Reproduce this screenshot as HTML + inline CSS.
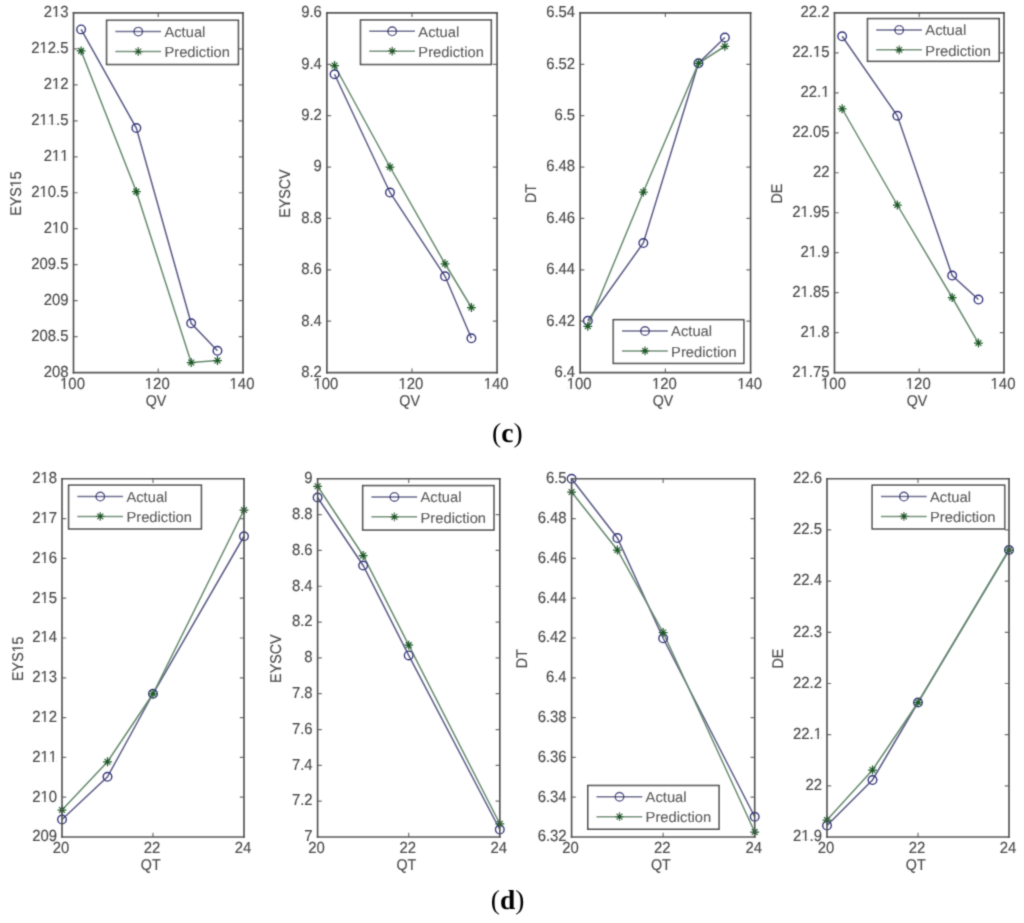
<!DOCTYPE html>
<html><head><meta charset="utf-8"><style>
html,body{margin:0;padding:0;background:#fff;}
body{width:1024px;height:923px;overflow:hidden;}
svg{display:block;}
#main{filter:url(#bl);}
svg text{font-family:"Liberation Sans",sans-serif;font-kerning:none;font-feature-settings:"kern" 0;text-rendering:geometricPrecision;fill:#4a4a4a;stroke:#4a4a4a;stroke-width:0.15px;}
</style></head><body>
<svg width="1024" height="923" viewBox="0 0 1024 923">
<defs><filter id="bl" x="0" y="0" width="1024" height="923" filterUnits="userSpaceOnUse"><feConvolveMatrix order="3" kernelMatrix="0.02768 0.11101 0.02768 0.11101 0.44521 0.11101 0.02768 0.11101 0.02768" edgeMode="none"/></filter></defs>
<rect width="1024" height="923" fill="#fff"/>
<g id="main"><g><path d="M158.25,372.60v-4.2M158.25,12.90v4.2M73.50,336.63h4.2M243.00,336.63h-4.2M73.50,300.66h4.2M243.00,300.66h-4.2M73.50,264.69h4.2M243.00,264.69h-4.2M73.50,228.72h4.2M243.00,228.72h-4.2M73.50,192.75h4.2M243.00,192.75h-4.2M73.50,156.78h4.2M243.00,156.78h-4.2M73.50,120.81h4.2M243.00,120.81h-4.2M73.50,84.84h4.2M243.00,84.84h-4.2M73.50,48.87h4.2M243.00,48.87h-4.2" stroke="#707070" stroke-width="1.2" fill="none"/><polyline points="81.13,29.40 136.34,128.05 191.18,323.25 217.45,350.75" stroke="#5a5a86" stroke-width="1.5" fill="none"/><polyline points="81.13,50.90 136.34,191.60 191.18,362.50 217.45,360.50" stroke="#66896d" stroke-width="1.5" fill="none"/><circle cx="81.13" cy="29.40" r="4.3" stroke="#33337a" stroke-width="1.35" fill="none"/><circle cx="136.34" cy="128.05" r="4.3" stroke="#33337a" stroke-width="1.35" fill="none"/><circle cx="191.18" cy="323.25" r="4.3" stroke="#33337a" stroke-width="1.35" fill="none"/><circle cx="217.45" cy="350.75" r="4.3" stroke="#33337a" stroke-width="1.35" fill="none"/><path d="M76.73,50.90H85.53M81.13,46.50V55.30M78.22,48.00L84.03,53.80M78.22,53.80L84.03,48.00M131.94,191.60H140.74M136.34,187.20V196.00M133.44,188.70L139.25,194.50M133.44,194.50L139.25,188.70M186.78,362.50H195.58M191.18,358.10V366.90M188.27,359.60L194.08,365.40M188.27,365.40L194.08,359.60M213.05,360.50H221.85M217.45,356.10V364.90M214.54,357.60L220.35,363.40M214.54,363.40L220.35,357.60" stroke="#1e5a28" stroke-width="1.25" fill="none"/><path d="M73.50,12.90H243.00M73.50,372.60H243.00" stroke="#585858" stroke-width="1.6" fill="none" stroke-linecap="square"/><path d="M73.50,12.90V372.60M243.00,12.90V372.60" stroke="#505050" stroke-width="1.6" fill="none" stroke-linecap="square"/><text transform="translate(68.50,376.90) scale(0.93,1)" style="font-size:16.0px" text-anchor="end">208</text><text transform="translate(68.50,340.93) scale(0.93,1)" style="font-size:16.0px" text-anchor="end">208.5</text><text transform="translate(68.50,304.96) scale(0.93,1)" style="font-size:16.0px" text-anchor="end">209</text><text transform="translate(68.50,268.99) scale(0.93,1)" style="font-size:16.0px" text-anchor="end">209.5</text><text transform="translate(68.50,233.02) scale(0.93,1)" style="font-size:16.0px" text-anchor="end">210</text><text transform="translate(68.50,197.05) scale(0.93,1)" style="font-size:16.0px" text-anchor="end">210.5</text><text transform="translate(68.50,161.08) scale(0.93,1)" style="font-size:16.0px" text-anchor="end">211</text><text transform="translate(68.50,125.11) scale(0.93,1)" style="font-size:16.0px" text-anchor="end">211.5</text><text transform="translate(68.50,89.14) scale(0.93,1)" style="font-size:16.0px" text-anchor="end">212</text><text transform="translate(68.50,53.17) scale(0.93,1)" style="font-size:16.0px" text-anchor="end">212.5</text><text transform="translate(68.50,17.20) scale(0.93,1)" style="font-size:16.0px" text-anchor="end">213</text><text transform="translate(72.50,388.90) scale(0.93,1)" style="font-size:16.0px" text-anchor="middle">100</text><text transform="translate(157.25,388.90) scale(0.93,1)" style="font-size:16.0px" text-anchor="middle">120</text><text transform="translate(242.00,388.90) scale(0.93,1)" style="font-size:16.0px" text-anchor="middle">140</text><text transform="translate(155.95,405.60) scale(0.92,1)" style="font-size:15.5px" text-anchor="middle">QV</text><text transform="translate(21.00,193.55) rotate(-90) scale(0.92,1)" style="font-size:15.5px" text-anchor="middle">EYS15</text><rect x="106.60" y="20.30" width="131.80" height="44.20" stroke="#505050" stroke-width="1.6" fill="#fff"/><path d="M115.30,31.60H161.10" stroke="#5a5a86" stroke-width="1.5"/><circle cx="138.30" cy="31.60" r="4.3" stroke="#33337a" stroke-width="1.35" fill="none"/><path d="M115.30,51.50H161.10" stroke="#66896d" stroke-width="1.5"/><path d="M133.90,51.50H142.70M138.30,47.10V55.90M135.40,48.60L141.20,54.40M135.40,54.40L141.20,48.60" stroke="#1e5a28" stroke-width="1.25" fill="none"/><text transform="translate(164.40,36.90) scale(1.01,1)" style="font-size:14.6px">Actual</text><text transform="translate(164.40,57.20) scale(1.01,1)" style="font-size:14.6px">Prediction</text></g><g><path d="M411.98,372.60v-4.2M411.98,12.90v4.2M326.90,321.21h4.2M497.06,321.21h-4.2M326.90,269.83h4.2M497.06,269.83h-4.2M326.90,218.44h4.2M497.06,218.44h-4.2M326.90,167.06h4.2M497.06,167.06h-4.2M326.90,115.67h4.2M497.06,115.67h-4.2M326.90,64.29h4.2M497.06,64.29h-4.2" stroke="#707070" stroke-width="1.2" fill="none"/><polyline points="334.56,74.25 389.99,192.50 445.03,276.25 471.41,338.25" stroke="#5a5a86" stroke-width="1.5" fill="none"/><polyline points="334.56,65.50 389.99,167.00 445.03,263.75 471.41,307.50" stroke="#66896d" stroke-width="1.5" fill="none"/><circle cx="334.56" cy="74.25" r="4.3" stroke="#33337a" stroke-width="1.35" fill="none"/><circle cx="389.99" cy="192.50" r="4.3" stroke="#33337a" stroke-width="1.35" fill="none"/><circle cx="445.03" cy="276.25" r="4.3" stroke="#33337a" stroke-width="1.35" fill="none"/><circle cx="471.41" cy="338.25" r="4.3" stroke="#33337a" stroke-width="1.35" fill="none"/><path d="M330.16,65.50H338.96M334.56,61.10V69.90M331.65,62.60L337.46,68.40M331.65,68.40L337.46,62.60M385.59,167.00H394.39M389.99,162.60V171.40M387.08,164.10L392.89,169.90M387.08,169.90L392.89,164.10M440.63,263.75H449.43M445.03,259.35V268.15M442.13,260.85L447.94,266.65M442.13,266.65L447.94,260.85M467.01,307.50H475.81M471.41,303.10V311.90M468.50,304.60L474.31,310.40M468.50,310.40L474.31,304.60" stroke="#1e5a28" stroke-width="1.25" fill="none"/><path d="M326.90,12.90H497.06M326.90,372.60H497.06" stroke="#585858" stroke-width="1.6" fill="none" stroke-linecap="square"/><path d="M326.90,12.90V372.60M497.06,12.90V372.60" stroke="#505050" stroke-width="1.6" fill="none" stroke-linecap="square"/><text transform="translate(321.90,376.90) scale(0.93,1)" style="font-size:16.0px" text-anchor="end">8.2</text><text transform="translate(321.90,325.51) scale(0.93,1)" style="font-size:16.0px" text-anchor="end">8.4</text><text transform="translate(321.90,274.13) scale(0.93,1)" style="font-size:16.0px" text-anchor="end">8.6</text><text transform="translate(321.90,222.74) scale(0.93,1)" style="font-size:16.0px" text-anchor="end">8.8</text><text transform="translate(321.90,171.36) scale(0.93,1)" style="font-size:16.0px" text-anchor="end">9</text><text transform="translate(321.90,119.97) scale(0.93,1)" style="font-size:16.0px" text-anchor="end">9.2</text><text transform="translate(321.90,68.59) scale(0.93,1)" style="font-size:16.0px" text-anchor="end">9.4</text><text transform="translate(321.90,17.20) scale(0.93,1)" style="font-size:16.0px" text-anchor="end">9.6</text><text transform="translate(325.90,388.90) scale(0.93,1)" style="font-size:16.0px" text-anchor="middle">100</text><text transform="translate(410.98,388.90) scale(0.93,1)" style="font-size:16.0px" text-anchor="middle">120</text><text transform="translate(496.06,388.90) scale(0.93,1)" style="font-size:16.0px" text-anchor="middle">140</text><text transform="translate(409.68,405.60) scale(0.92,1)" style="font-size:15.5px" text-anchor="middle">QV</text><text transform="translate(290.00,193.55) rotate(-90) scale(0.92,1)" style="font-size:15.5px" text-anchor="middle">EYSCV</text><rect x="360.50" y="20.00" width="130.80" height="44.50" stroke="#505050" stroke-width="1.6" fill="#fff"/><path d="M369.20,31.30H415.00" stroke="#5a5a86" stroke-width="1.5"/><circle cx="392.20" cy="31.30" r="4.3" stroke="#33337a" stroke-width="1.35" fill="none"/><path d="M369.20,51.20H415.00" stroke="#66896d" stroke-width="1.5"/><path d="M387.80,51.20H396.60M392.20,46.80V55.60M389.30,48.30L395.10,54.10M389.30,54.10L395.10,48.30" stroke="#1e5a28" stroke-width="1.25" fill="none"/><text transform="translate(418.30,36.60) scale(1.01,1)" style="font-size:14.6px">Actual</text><text transform="translate(418.30,56.90) scale(1.01,1)" style="font-size:14.6px">Prediction</text></g><g><path d="M665.38,372.60v-4.2M665.38,12.90v4.2M580.15,321.21h4.2M750.60,321.21h-4.2M580.15,269.83h4.2M750.60,269.83h-4.2M580.15,218.44h4.2M750.60,218.44h-4.2M580.15,167.06h4.2M750.60,167.06h-4.2M580.15,115.67h4.2M750.60,115.67h-4.2M580.15,64.29h4.2M750.60,64.29h-4.2" stroke="#707070" stroke-width="1.2" fill="none"/><polyline points="587.82,320.75 643.34,243.00 698.48,63.25 724.90,37.50" stroke="#5a5a86" stroke-width="1.5" fill="none"/><polyline points="587.82,326.25 643.34,192.00 698.48,63.25 724.90,46.25" stroke="#66896d" stroke-width="1.5" fill="none"/><circle cx="587.82" cy="320.75" r="4.3" stroke="#33337a" stroke-width="1.35" fill="none"/><circle cx="643.34" cy="243.00" r="4.3" stroke="#33337a" stroke-width="1.35" fill="none"/><circle cx="698.48" cy="63.25" r="4.3" stroke="#33337a" stroke-width="1.35" fill="none"/><circle cx="724.90" cy="37.50" r="4.3" stroke="#33337a" stroke-width="1.35" fill="none"/><path d="M583.42,326.25H592.22M587.82,321.85V330.65M584.92,323.35L590.72,329.15M584.92,329.15L590.72,323.35M638.94,192.00H647.74M643.34,187.60V196.40M640.44,189.10L646.25,194.90M640.44,194.90L646.25,189.10M694.08,63.25H702.88M698.48,58.85V67.65M695.58,60.35L701.39,66.15M695.58,66.15L701.39,60.35M720.50,46.25H729.30M724.90,41.85V50.65M722.00,43.35L727.81,49.15M722.00,49.15L727.81,43.35" stroke="#1e5a28" stroke-width="1.25" fill="none"/><path d="M580.15,12.90H750.60M580.15,372.60H750.60" stroke="#585858" stroke-width="1.6" fill="none" stroke-linecap="square"/><path d="M580.15,12.90V372.60M750.60,12.90V372.60" stroke="#505050" stroke-width="1.6" fill="none" stroke-linecap="square"/><text transform="translate(575.15,376.90) scale(0.93,1)" style="font-size:16.0px" text-anchor="end">6.4</text><text transform="translate(575.15,325.51) scale(0.93,1)" style="font-size:16.0px" text-anchor="end">6.42</text><text transform="translate(575.15,274.13) scale(0.93,1)" style="font-size:16.0px" text-anchor="end">6.44</text><text transform="translate(575.15,222.74) scale(0.93,1)" style="font-size:16.0px" text-anchor="end">6.46</text><text transform="translate(575.15,171.36) scale(0.93,1)" style="font-size:16.0px" text-anchor="end">6.48</text><text transform="translate(575.15,119.97) scale(0.93,1)" style="font-size:16.0px" text-anchor="end">6.5</text><text transform="translate(575.15,68.59) scale(0.93,1)" style="font-size:16.0px" text-anchor="end">6.52</text><text transform="translate(575.15,17.20) scale(0.93,1)" style="font-size:16.0px" text-anchor="end">6.54</text><text transform="translate(579.15,388.90) scale(0.93,1)" style="font-size:16.0px" text-anchor="middle">100</text><text transform="translate(664.38,388.90) scale(0.93,1)" style="font-size:16.0px" text-anchor="middle">120</text><text transform="translate(749.60,388.90) scale(0.93,1)" style="font-size:16.0px" text-anchor="middle">140</text><text transform="translate(663.08,405.60) scale(0.92,1)" style="font-size:15.5px" text-anchor="middle">QV</text><text transform="translate(535.60,193.55) rotate(-90) scale(0.92,1)" style="font-size:15.5px" text-anchor="middle">DT</text><rect x="613.30" y="319.70" width="130.50" height="43.70" stroke="#505050" stroke-width="1.6" fill="#fff"/><path d="M622.00,331.00H667.80" stroke="#5a5a86" stroke-width="1.5"/><circle cx="645.00" cy="331.00" r="4.3" stroke="#33337a" stroke-width="1.35" fill="none"/><path d="M622.00,350.90H667.80" stroke="#66896d" stroke-width="1.5"/><path d="M640.60,350.90H649.40M645.00,346.50V355.30M642.10,348.00L647.90,353.80M642.10,353.80L647.90,348.00" stroke="#1e5a28" stroke-width="1.25" fill="none"/><text transform="translate(671.10,336.30) scale(1.01,1)" style="font-size:14.6px">Actual</text><text transform="translate(671.10,356.60) scale(1.01,1)" style="font-size:14.6px">Prediction</text></g><g><path d="M919.25,372.60v-4.2M919.25,12.90v4.2M834.50,332.63h4.2M1004.00,332.63h-4.2M834.50,292.67h4.2M1004.00,292.67h-4.2M834.50,252.70h4.2M1004.00,252.70h-4.2M834.50,212.73h4.2M1004.00,212.73h-4.2M834.50,172.77h4.2M1004.00,172.77h-4.2M834.50,132.80h4.2M1004.00,132.80h-4.2M834.50,92.83h4.2M1004.00,92.83h-4.2M834.50,52.87h4.2M1004.00,52.87h-4.2" stroke="#707070" stroke-width="1.2" fill="none"/><polyline points="842.13,36.25 897.34,115.75 952.18,275.50 978.45,299.50" stroke="#5a5a86" stroke-width="1.5" fill="none"/><polyline points="842.13,108.75 897.34,205.00 952.18,297.50 978.45,343.00" stroke="#66896d" stroke-width="1.5" fill="none"/><circle cx="842.13" cy="36.25" r="4.3" stroke="#33337a" stroke-width="1.35" fill="none"/><circle cx="897.34" cy="115.75" r="4.3" stroke="#33337a" stroke-width="1.35" fill="none"/><circle cx="952.18" cy="275.50" r="4.3" stroke="#33337a" stroke-width="1.35" fill="none"/><circle cx="978.45" cy="299.50" r="4.3" stroke="#33337a" stroke-width="1.35" fill="none"/><path d="M837.73,108.75H846.53M842.13,104.35V113.15M839.22,105.85L845.03,111.65M839.22,111.65L845.03,105.85M892.94,205.00H901.74M897.34,200.60V209.40M894.44,202.10L900.25,207.90M894.44,207.90L900.25,202.10M947.78,297.50H956.58M952.18,293.10V301.90M949.27,294.60L955.08,300.40M949.27,300.40L955.08,294.60M974.05,343.00H982.85M978.45,338.60V347.40M975.54,340.10L981.35,345.90M975.54,345.90L981.35,340.10" stroke="#1e5a28" stroke-width="1.25" fill="none"/><path d="M834.50,12.90H1004.00M834.50,372.60H1004.00" stroke="#585858" stroke-width="1.6" fill="none" stroke-linecap="square"/><path d="M834.50,12.90V372.60M1004.00,12.90V372.60" stroke="#505050" stroke-width="1.6" fill="none" stroke-linecap="square"/><text transform="translate(829.50,376.90) scale(0.93,1)" style="font-size:16.0px" text-anchor="end">21.75</text><text transform="translate(829.50,336.93) scale(0.93,1)" style="font-size:16.0px" text-anchor="end">21.8</text><text transform="translate(829.50,296.97) scale(0.93,1)" style="font-size:16.0px" text-anchor="end">21.85</text><text transform="translate(829.50,257.00) scale(0.93,1)" style="font-size:16.0px" text-anchor="end">21.9</text><text transform="translate(829.50,217.03) scale(0.93,1)" style="font-size:16.0px" text-anchor="end">21.95</text><text transform="translate(829.50,177.07) scale(0.93,1)" style="font-size:16.0px" text-anchor="end">22</text><text transform="translate(829.50,137.10) scale(0.93,1)" style="font-size:16.0px" text-anchor="end">22.05</text><text transform="translate(829.50,97.13) scale(0.93,1)" style="font-size:16.0px" text-anchor="end">22.1</text><text transform="translate(829.50,57.17) scale(0.93,1)" style="font-size:16.0px" text-anchor="end">22.15</text><text transform="translate(829.50,17.20) scale(0.93,1)" style="font-size:16.0px" text-anchor="end">22.2</text><text transform="translate(833.50,388.90) scale(0.93,1)" style="font-size:16.0px" text-anchor="middle">100</text><text transform="translate(918.25,388.90) scale(0.93,1)" style="font-size:16.0px" text-anchor="middle">120</text><text transform="translate(1003.00,388.90) scale(0.93,1)" style="font-size:16.0px" text-anchor="middle">140</text><text transform="translate(916.95,405.60) scale(0.92,1)" style="font-size:15.5px" text-anchor="middle">QV</text><text transform="translate(781.70,193.55) rotate(-90) scale(0.92,1)" style="font-size:15.5px" text-anchor="middle">DE</text><rect x="867.50" y="18.60" width="131.70" height="42.70" stroke="#505050" stroke-width="1.6" fill="#fff"/><path d="M876.20,29.90H922.00" stroke="#5a5a86" stroke-width="1.5"/><circle cx="899.20" cy="29.90" r="4.3" stroke="#33337a" stroke-width="1.35" fill="none"/><path d="M876.20,49.80H922.00" stroke="#66896d" stroke-width="1.5"/><path d="M894.80,49.80H903.60M899.20,45.40V54.20M896.30,46.90L902.10,52.70M896.30,52.70L902.10,46.90" stroke="#1e5a28" stroke-width="1.25" fill="none"/><text transform="translate(925.30,35.20) scale(1.01,1)" style="font-size:14.6px">Actual</text><text transform="translate(925.30,55.50) scale(1.01,1)" style="font-size:14.6px">Prediction</text></g><g><path d="M153.00,837.00v-4.2M153.00,478.80v4.2M62.00,797.20h4.2M244.00,797.20h-4.2M62.00,757.40h4.2M244.00,757.40h-4.2M62.00,717.60h4.2M244.00,717.60h-4.2M62.00,677.80h4.2M244.00,677.80h-4.2M62.00,638.00h4.2M244.00,638.00h-4.2M62.00,598.20h4.2M244.00,598.20h-4.2M62.00,558.40h4.2M244.00,558.40h-4.2M62.00,518.60h4.2M244.00,518.60h-4.2" stroke="#707070" stroke-width="1.2" fill="none"/><polyline points="62.00,819.50 107.50,776.75 153.00,693.75 244.00,536.25" stroke="#5a5a86" stroke-width="1.5" fill="none"/><polyline points="62.00,810.00 107.50,761.75 153.00,693.75 244.00,510.00" stroke="#66896d" stroke-width="1.5" fill="none"/><circle cx="62.00" cy="819.50" r="4.3" stroke="#33337a" stroke-width="1.35" fill="none"/><circle cx="107.50" cy="776.75" r="4.3" stroke="#33337a" stroke-width="1.35" fill="none"/><circle cx="153.00" cy="693.75" r="4.3" stroke="#33337a" stroke-width="1.35" fill="none"/><circle cx="244.00" cy="536.25" r="4.3" stroke="#33337a" stroke-width="1.35" fill="none"/><path d="M57.60,810.00H66.40M62.00,805.60V814.40M59.10,807.10L64.90,812.90M59.10,812.90L64.90,807.10M103.10,761.75H111.90M107.50,757.35V766.15M104.60,758.85L110.40,764.65M104.60,764.65L110.40,758.85M148.60,693.75H157.40M153.00,689.35V698.15M150.10,690.85L155.90,696.65M150.10,696.65L155.90,690.85M239.60,510.00H248.40M244.00,505.60V514.40M241.10,507.10L246.90,512.90M241.10,512.90L246.90,507.10" stroke="#1e5a28" stroke-width="1.25" fill="none"/><path d="M62.00,478.80H244.00M62.00,837.00H244.00" stroke="#585858" stroke-width="1.6" fill="none" stroke-linecap="square"/><path d="M62.00,478.80V837.00M244.00,478.80V837.00" stroke="#505050" stroke-width="1.6" fill="none" stroke-linecap="square"/><text transform="translate(57.00,841.30) scale(0.93,1)" style="font-size:16.0px" text-anchor="end">209</text><text transform="translate(57.00,801.50) scale(0.93,1)" style="font-size:16.0px" text-anchor="end">210</text><text transform="translate(57.00,761.70) scale(0.93,1)" style="font-size:16.0px" text-anchor="end">211</text><text transform="translate(57.00,721.90) scale(0.93,1)" style="font-size:16.0px" text-anchor="end">212</text><text transform="translate(57.00,682.10) scale(0.93,1)" style="font-size:16.0px" text-anchor="end">213</text><text transform="translate(57.00,642.30) scale(0.93,1)" style="font-size:16.0px" text-anchor="end">214</text><text transform="translate(57.00,602.50) scale(0.93,1)" style="font-size:16.0px" text-anchor="end">215</text><text transform="translate(57.00,562.70) scale(0.93,1)" style="font-size:16.0px" text-anchor="end">216</text><text transform="translate(57.00,522.90) scale(0.93,1)" style="font-size:16.0px" text-anchor="end">217</text><text transform="translate(57.00,483.10) scale(0.93,1)" style="font-size:16.0px" text-anchor="end">218</text><text transform="translate(61.00,853.30) scale(0.93,1)" style="font-size:16.0px" text-anchor="middle">20</text><text transform="translate(152.00,853.30) scale(0.93,1)" style="font-size:16.0px" text-anchor="middle">22</text><text transform="translate(243.00,853.30) scale(0.93,1)" style="font-size:16.0px" text-anchor="middle">24</text><text transform="translate(150.70,870.00) scale(0.92,1)" style="font-size:15.5px" text-anchor="middle">QT</text><text transform="translate(22.50,658.70) rotate(-90) scale(0.92,1)" style="font-size:15.5px" text-anchor="middle">EYS15</text><rect x="68.60" y="485.20" width="132.80" height="43.70" stroke="#505050" stroke-width="1.6" fill="#fff"/><path d="M77.30,496.50H123.10" stroke="#5a5a86" stroke-width="1.5"/><circle cx="100.30" cy="496.50" r="4.3" stroke="#33337a" stroke-width="1.35" fill="none"/><path d="M77.30,516.40H123.10" stroke="#66896d" stroke-width="1.5"/><path d="M95.90,516.40H104.70M100.30,512.00V520.80M97.40,513.50L103.20,519.30M97.40,519.30L103.20,513.50" stroke="#1e5a28" stroke-width="1.25" fill="none"/><text transform="translate(126.40,501.80) scale(1.01,1)" style="font-size:14.6px">Actual</text><text transform="translate(126.40,522.10) scale(1.01,1)" style="font-size:14.6px">Prediction</text></g><g><path d="M408.70,837.00v-4.2M408.70,478.80v4.2M317.60,801.18h4.2M499.80,801.18h-4.2M317.60,765.36h4.2M499.80,765.36h-4.2M317.60,729.54h4.2M499.80,729.54h-4.2M317.60,693.72h4.2M499.80,693.72h-4.2M317.60,657.90h4.2M499.80,657.90h-4.2M317.60,622.08h4.2M499.80,622.08h-4.2M317.60,586.26h4.2M499.80,586.26h-4.2M317.60,550.44h4.2M499.80,550.44h-4.2M317.60,514.62h4.2M499.80,514.62h-4.2" stroke="#707070" stroke-width="1.2" fill="none"/><polyline points="317.60,497.50 363.15,565.50 408.70,655.40 499.80,829.50" stroke="#5a5a86" stroke-width="1.5" fill="none"/><polyline points="317.60,486.25 363.15,555.50 408.70,645.20 499.80,823.75" stroke="#66896d" stroke-width="1.5" fill="none"/><circle cx="317.60" cy="497.50" r="4.3" stroke="#33337a" stroke-width="1.35" fill="none"/><circle cx="363.15" cy="565.50" r="4.3" stroke="#33337a" stroke-width="1.35" fill="none"/><circle cx="408.70" cy="655.40" r="4.3" stroke="#33337a" stroke-width="1.35" fill="none"/><circle cx="499.80" cy="829.50" r="4.3" stroke="#33337a" stroke-width="1.35" fill="none"/><path d="M313.20,486.25H322.00M317.60,481.85V490.65M314.70,483.35L320.50,489.15M314.70,489.15L320.50,483.35M358.75,555.50H367.55M363.15,551.10V559.90M360.25,552.60L366.05,558.40M360.25,558.40L366.05,552.60M404.30,645.20H413.10M408.70,640.80V649.60M405.80,642.30L411.60,648.10M405.80,648.10L411.60,642.30M495.40,823.75H504.20M499.80,819.35V828.15M496.90,820.85L502.70,826.65M496.90,826.65L502.70,820.85" stroke="#1e5a28" stroke-width="1.25" fill="none"/><path d="M317.60,478.80H499.80M317.60,837.00H499.80" stroke="#585858" stroke-width="1.6" fill="none" stroke-linecap="square"/><path d="M317.60,478.80V837.00M499.80,478.80V837.00" stroke="#505050" stroke-width="1.6" fill="none" stroke-linecap="square"/><text transform="translate(312.60,841.30) scale(0.93,1)" style="font-size:16.0px" text-anchor="end">7</text><text transform="translate(312.60,805.48) scale(0.93,1)" style="font-size:16.0px" text-anchor="end">7.2</text><text transform="translate(312.60,769.66) scale(0.93,1)" style="font-size:16.0px" text-anchor="end">7.4</text><text transform="translate(312.60,733.84) scale(0.93,1)" style="font-size:16.0px" text-anchor="end">7.6</text><text transform="translate(312.60,698.02) scale(0.93,1)" style="font-size:16.0px" text-anchor="end">7.8</text><text transform="translate(312.60,662.20) scale(0.93,1)" style="font-size:16.0px" text-anchor="end">8</text><text transform="translate(312.60,626.38) scale(0.93,1)" style="font-size:16.0px" text-anchor="end">8.2</text><text transform="translate(312.60,590.56) scale(0.93,1)" style="font-size:16.0px" text-anchor="end">8.4</text><text transform="translate(312.60,554.74) scale(0.93,1)" style="font-size:16.0px" text-anchor="end">8.6</text><text transform="translate(312.60,518.92) scale(0.93,1)" style="font-size:16.0px" text-anchor="end">8.8</text><text transform="translate(312.60,483.10) scale(0.93,1)" style="font-size:16.0px" text-anchor="end">9</text><text transform="translate(316.60,853.30) scale(0.93,1)" style="font-size:16.0px" text-anchor="middle">20</text><text transform="translate(407.70,853.30) scale(0.93,1)" style="font-size:16.0px" text-anchor="middle">22</text><text transform="translate(498.80,853.30) scale(0.93,1)" style="font-size:16.0px" text-anchor="middle">24</text><text transform="translate(406.40,870.00) scale(0.92,1)" style="font-size:15.5px" text-anchor="middle">QT</text><text transform="translate(280.50,658.70) rotate(-90) scale(0.92,1)" style="font-size:15.5px" text-anchor="middle">EYSCV</text><rect x="362.70" y="485.60" width="131.20" height="44.40" stroke="#505050" stroke-width="1.6" fill="#fff"/><path d="M371.40,496.90H417.20" stroke="#5a5a86" stroke-width="1.5"/><circle cx="394.40" cy="496.90" r="4.3" stroke="#33337a" stroke-width="1.35" fill="none"/><path d="M371.40,516.80H417.20" stroke="#66896d" stroke-width="1.5"/><path d="M390.00,516.80H398.80M394.40,512.40V521.20M391.50,513.90L397.30,519.70M391.50,519.70L397.30,513.90" stroke="#1e5a28" stroke-width="1.25" fill="none"/><text transform="translate(420.50,502.20) scale(1.01,1)" style="font-size:14.6px">Actual</text><text transform="translate(420.50,522.50) scale(1.01,1)" style="font-size:14.6px">Prediction</text></g><g><path d="M663.15,837.00v-4.2M663.15,478.80v4.2M571.60,797.20h4.2M754.70,797.20h-4.2M571.60,757.40h4.2M754.70,757.40h-4.2M571.60,717.60h4.2M754.70,717.60h-4.2M571.60,677.80h4.2M754.70,677.80h-4.2M571.60,638.00h4.2M754.70,638.00h-4.2M571.60,598.20h4.2M754.70,598.20h-4.2M571.60,558.40h4.2M754.70,558.40h-4.2M571.60,518.60h4.2M754.70,518.60h-4.2" stroke="#707070" stroke-width="1.2" fill="none"/><polyline points="571.60,478.75 617.38,538.00 663.15,638.25 754.70,816.75" stroke="#5a5a86" stroke-width="1.5" fill="none"/><polyline points="571.60,492.00 617.38,550.00 663.15,632.50 754.70,832.00" stroke="#66896d" stroke-width="1.5" fill="none"/><circle cx="571.60" cy="478.75" r="4.3" stroke="#33337a" stroke-width="1.35" fill="none"/><circle cx="617.38" cy="538.00" r="4.3" stroke="#33337a" stroke-width="1.35" fill="none"/><circle cx="663.15" cy="638.25" r="4.3" stroke="#33337a" stroke-width="1.35" fill="none"/><circle cx="754.70" cy="816.75" r="4.3" stroke="#33337a" stroke-width="1.35" fill="none"/><path d="M567.20,492.00H576.00M571.60,487.60V496.40M568.70,489.10L574.50,494.90M568.70,494.90L574.50,489.10M612.98,550.00H621.77M617.38,545.60V554.40M614.47,547.10L620.28,552.90M614.47,552.90L620.28,547.10M658.75,632.50H667.55M663.15,628.10V636.90M660.25,629.60L666.05,635.40M660.25,635.40L666.05,629.60M750.30,832.00H759.10M754.70,827.60V836.40M751.80,829.10L757.60,834.90M751.80,834.90L757.60,829.10" stroke="#1e5a28" stroke-width="1.25" fill="none"/><path d="M571.60,478.80H754.70M571.60,837.00H754.70" stroke="#585858" stroke-width="1.6" fill="none" stroke-linecap="square"/><path d="M571.60,478.80V837.00M754.70,478.80V837.00" stroke="#505050" stroke-width="1.6" fill="none" stroke-linecap="square"/><text transform="translate(566.60,841.30) scale(0.93,1)" style="font-size:16.0px" text-anchor="end">6.32</text><text transform="translate(566.60,801.50) scale(0.93,1)" style="font-size:16.0px" text-anchor="end">6.34</text><text transform="translate(566.60,761.70) scale(0.93,1)" style="font-size:16.0px" text-anchor="end">6.36</text><text transform="translate(566.60,721.90) scale(0.93,1)" style="font-size:16.0px" text-anchor="end">6.38</text><text transform="translate(566.60,682.10) scale(0.93,1)" style="font-size:16.0px" text-anchor="end">6.4</text><text transform="translate(566.60,642.30) scale(0.93,1)" style="font-size:16.0px" text-anchor="end">6.42</text><text transform="translate(566.60,602.50) scale(0.93,1)" style="font-size:16.0px" text-anchor="end">6.44</text><text transform="translate(566.60,562.70) scale(0.93,1)" style="font-size:16.0px" text-anchor="end">6.46</text><text transform="translate(566.60,522.90) scale(0.93,1)" style="font-size:16.0px" text-anchor="end">6.48</text><text transform="translate(566.60,483.10) scale(0.93,1)" style="font-size:16.0px" text-anchor="end">6.5</text><text transform="translate(570.60,853.30) scale(0.93,1)" style="font-size:16.0px" text-anchor="middle">20</text><text transform="translate(662.15,853.30) scale(0.93,1)" style="font-size:16.0px" text-anchor="middle">22</text><text transform="translate(753.70,853.30) scale(0.93,1)" style="font-size:16.0px" text-anchor="middle">24</text><text transform="translate(660.85,870.00) scale(0.92,1)" style="font-size:15.5px" text-anchor="middle">QT</text><text transform="translate(526.90,658.70) rotate(-90) scale(0.92,1)" style="font-size:15.5px" text-anchor="middle">DT</text><rect x="587.80" y="785.50" width="131.20" height="43.70" stroke="#505050" stroke-width="1.6" fill="#fff"/><path d="M596.50,796.80H642.30" stroke="#5a5a86" stroke-width="1.5"/><circle cx="619.50" cy="796.80" r="4.3" stroke="#33337a" stroke-width="1.35" fill="none"/><path d="M596.50,816.70H642.30" stroke="#66896d" stroke-width="1.5"/><path d="M615.10,816.70H623.90M619.50,812.30V821.10M616.60,813.80L622.40,819.60M616.60,819.60L622.40,813.80" stroke="#1e5a28" stroke-width="1.25" fill="none"/><text transform="translate(645.60,802.10) scale(1.01,1)" style="font-size:14.6px">Actual</text><text transform="translate(645.60,822.40) scale(1.01,1)" style="font-size:14.6px">Prediction</text></g><g><path d="M918.00,837.00v-4.2M918.00,478.80v4.2M827.00,785.83h4.2M1009.00,785.83h-4.2M827.00,734.66h4.2M1009.00,734.66h-4.2M827.00,683.49h4.2M1009.00,683.49h-4.2M827.00,632.31h4.2M1009.00,632.31h-4.2M827.00,581.14h4.2M1009.00,581.14h-4.2M827.00,529.97h4.2M1009.00,529.97h-4.2" stroke="#707070" stroke-width="1.2" fill="none"/><polyline points="827.00,825.50 872.50,780.00 918.00,702.50 1009.00,550.00" stroke="#5a5a86" stroke-width="1.5" fill="none"/><polyline points="827.00,820.00 872.50,770.00 918.00,702.50 1009.00,550.00" stroke="#66896d" stroke-width="1.5" fill="none"/><circle cx="827.00" cy="825.50" r="4.3" stroke="#33337a" stroke-width="1.35" fill="none"/><circle cx="872.50" cy="780.00" r="4.3" stroke="#33337a" stroke-width="1.35" fill="none"/><circle cx="918.00" cy="702.50" r="4.3" stroke="#33337a" stroke-width="1.35" fill="none"/><circle cx="1009.00" cy="550.00" r="4.3" stroke="#33337a" stroke-width="1.35" fill="none"/><path d="M822.60,820.00H831.40M827.00,815.60V824.40M824.10,817.10L829.90,822.90M824.10,822.90L829.90,817.10M868.10,770.00H876.90M872.50,765.60V774.40M869.60,767.10L875.40,772.90M869.60,772.90L875.40,767.10M913.60,702.50H922.40M918.00,698.10V706.90M915.10,699.60L920.90,705.40M915.10,705.40L920.90,699.60M1004.60,550.00H1013.40M1009.00,545.60V554.40M1006.10,547.10L1011.90,552.90M1006.10,552.90L1011.90,547.10" stroke="#1e5a28" stroke-width="1.25" fill="none"/><path d="M827.00,478.80H1009.00M827.00,837.00H1009.00" stroke="#585858" stroke-width="1.6" fill="none" stroke-linecap="square"/><path d="M827.00,478.80V837.00M1009.00,478.80V837.00" stroke="#505050" stroke-width="1.6" fill="none" stroke-linecap="square"/><text transform="translate(822.00,841.30) scale(0.93,1)" style="font-size:16.0px" text-anchor="end">21.9</text><text transform="translate(822.00,790.13) scale(0.93,1)" style="font-size:16.0px" text-anchor="end">22</text><text transform="translate(822.00,738.96) scale(0.93,1)" style="font-size:16.0px" text-anchor="end">22.1</text><text transform="translate(822.00,687.79) scale(0.93,1)" style="font-size:16.0px" text-anchor="end">22.2</text><text transform="translate(822.00,636.61) scale(0.93,1)" style="font-size:16.0px" text-anchor="end">22.3</text><text transform="translate(822.00,585.44) scale(0.93,1)" style="font-size:16.0px" text-anchor="end">22.4</text><text transform="translate(822.00,534.27) scale(0.93,1)" style="font-size:16.0px" text-anchor="end">22.5</text><text transform="translate(822.00,483.10) scale(0.93,1)" style="font-size:16.0px" text-anchor="end">22.6</text><text transform="translate(826.00,853.30) scale(0.93,1)" style="font-size:16.0px" text-anchor="middle">20</text><text transform="translate(917.00,853.30) scale(0.93,1)" style="font-size:16.0px" text-anchor="middle">22</text><text transform="translate(1008.00,853.30) scale(0.93,1)" style="font-size:16.0px" text-anchor="middle">24</text><text transform="translate(915.70,870.00) scale(0.92,1)" style="font-size:15.5px" text-anchor="middle">QT</text><text transform="translate(782.70,658.70) rotate(-90) scale(0.92,1)" style="font-size:15.5px" text-anchor="middle">DE</text><rect x="872.20" y="485.20" width="132.50" height="43.70" stroke="#505050" stroke-width="1.6" fill="#fff"/><path d="M880.90,496.50H926.70" stroke="#5a5a86" stroke-width="1.5"/><circle cx="903.90" cy="496.50" r="4.3" stroke="#33337a" stroke-width="1.35" fill="none"/><path d="M880.90,516.40H926.70" stroke="#66896d" stroke-width="1.5"/><path d="M899.50,516.40H908.30M903.90,512.00V520.80M901.00,513.50L906.80,519.30M901.00,519.30L906.80,513.50" stroke="#1e5a28" stroke-width="1.25" fill="none"/><text transform="translate(930.00,501.80) scale(1.01,1)" style="font-size:14.6px">Actual</text><text transform="translate(930.00,522.10) scale(1.01,1)" style="font-size:14.6px">Prediction</text></g>
<g fill="#fff"><rect x="52.75" y="231.37" width="2.72" height="2.60"/><rect x="57.23" y="231.37" width="2.64" height="2.60"/><rect x="40.34" y="195.40" width="2.72" height="2.60"/><rect x="44.82" y="195.40" width="2.64" height="2.60"/><rect x="52.75" y="159.43" width="2.72" height="2.60"/><rect x="57.23" y="159.43" width="2.64" height="2.60"/><rect x="61.02" y="159.43" width="2.72" height="2.60"/><rect x="65.50" y="159.43" width="2.64" height="2.60"/><rect x="40.34" y="123.46" width="2.72" height="2.60"/><rect x="44.82" y="123.46" width="2.64" height="2.60"/><rect x="48.61" y="123.46" width="2.72" height="2.60"/><rect x="53.09" y="123.46" width="2.64" height="2.60"/><rect x="52.75" y="87.49" width="2.72" height="2.60"/><rect x="57.23" y="87.49" width="2.64" height="2.60"/><rect x="40.34" y="51.52" width="2.72" height="2.60"/><rect x="44.82" y="51.52" width="2.64" height="2.60"/><rect x="52.75" y="15.55" width="2.72" height="2.60"/><rect x="57.23" y="15.55" width="2.64" height="2.60"/><rect x="60.89" y="387.25" width="2.72" height="2.60"/><rect x="65.36" y="387.25" width="2.64" height="2.60"/><rect x="145.64" y="387.25" width="2.72" height="2.60"/><rect x="150.11" y="387.25" width="2.64" height="2.60"/><rect x="230.39" y="387.25" width="2.72" height="2.60"/><rect x="234.86" y="387.25" width="2.64" height="2.60"/><g transform="translate(21.00,193.55) rotate(-90)"><rect x="7.10" y="-1.61" width="2.60" height="2.56"/><rect x="11.40" y="-1.61" width="2.52" height="2.56"/></g><rect x="314.29" y="387.25" width="2.72" height="2.60"/><rect x="318.76" y="387.25" width="2.64" height="2.60"/><rect x="399.37" y="387.25" width="2.72" height="2.60"/><rect x="403.84" y="387.25" width="2.64" height="2.60"/><rect x="484.45" y="387.25" width="2.72" height="2.60"/><rect x="488.92" y="387.25" width="2.64" height="2.60"/><rect x="567.54" y="387.25" width="2.72" height="2.60"/><rect x="572.01" y="387.25" width="2.64" height="2.60"/><rect x="652.76" y="387.25" width="2.72" height="2.60"/><rect x="657.24" y="387.25" width="2.64" height="2.60"/><rect x="737.99" y="387.25" width="2.72" height="2.60"/><rect x="742.46" y="387.25" width="2.64" height="2.60"/><rect x="801.34" y="375.25" width="2.72" height="2.60"/><rect x="805.82" y="375.25" width="2.64" height="2.60"/><rect x="809.61" y="335.29" width="2.72" height="2.60"/><rect x="814.09" y="335.29" width="2.64" height="2.60"/><rect x="801.34" y="295.32" width="2.72" height="2.60"/><rect x="805.82" y="295.32" width="2.64" height="2.60"/><rect x="809.61" y="255.35" width="2.72" height="2.60"/><rect x="814.09" y="255.35" width="2.64" height="2.60"/><rect x="801.34" y="215.39" width="2.72" height="2.60"/><rect x="805.82" y="215.39" width="2.64" height="2.60"/><rect x="822.02" y="95.49" width="2.72" height="2.60"/><rect x="826.50" y="95.49" width="2.64" height="2.60"/><rect x="813.75" y="55.52" width="2.72" height="2.60"/><rect x="818.23" y="55.52" width="2.64" height="2.60"/><rect x="821.89" y="387.25" width="2.72" height="2.60"/><rect x="826.36" y="387.25" width="2.64" height="2.60"/><rect x="906.64" y="387.25" width="2.72" height="2.60"/><rect x="911.11" y="387.25" width="2.64" height="2.60"/><rect x="991.39" y="387.25" width="2.72" height="2.60"/><rect x="995.86" y="387.25" width="2.64" height="2.60"/><rect x="41.25" y="799.85" width="2.72" height="2.60"/><rect x="45.73" y="799.85" width="2.64" height="2.60"/><rect x="41.25" y="760.05" width="2.72" height="2.60"/><rect x="45.73" y="760.05" width="2.64" height="2.60"/><rect x="49.52" y="760.05" width="2.72" height="2.60"/><rect x="54.00" y="760.05" width="2.64" height="2.60"/><rect x="41.25" y="720.25" width="2.72" height="2.60"/><rect x="45.73" y="720.25" width="2.64" height="2.60"/><rect x="41.25" y="680.45" width="2.72" height="2.60"/><rect x="45.73" y="680.45" width="2.64" height="2.60"/><rect x="41.25" y="640.65" width="2.72" height="2.60"/><rect x="45.73" y="640.65" width="2.64" height="2.60"/><rect x="41.25" y="600.85" width="2.72" height="2.60"/><rect x="45.73" y="600.85" width="2.64" height="2.60"/><rect x="41.25" y="561.05" width="2.72" height="2.60"/><rect x="45.73" y="561.05" width="2.64" height="2.60"/><rect x="41.25" y="521.25" width="2.72" height="2.60"/><rect x="45.73" y="521.25" width="2.64" height="2.60"/><rect x="41.25" y="481.45" width="2.72" height="2.60"/><rect x="45.73" y="481.45" width="2.64" height="2.60"/><g transform="translate(22.50,658.70) rotate(-90)"><rect x="7.10" y="-1.61" width="2.60" height="2.56"/><rect x="11.40" y="-1.61" width="2.52" height="2.56"/></g><rect x="802.11" y="839.65" width="2.72" height="2.60"/><rect x="806.59" y="839.65" width="2.64" height="2.60"/><rect x="814.52" y="737.31" width="2.72" height="2.60"/><rect x="819.00" y="737.31" width="2.64" height="2.60"/></g>
<text x="507.4" y="441.5" text-anchor="middle" style="font-family:&quot;Liberation Serif&quot;,serif;font-size:27.5px;fill:#000;stroke:none">(<tspan font-weight="bold">c</tspan>)</text><text x="507.6" y="909.4" text-anchor="middle" style="font-family:&quot;Liberation Serif&quot;,serif;font-size:27.5px;fill:#000;stroke:none">(<tspan font-weight="bold">d</tspan>)</text></g>
</svg>
</body></html>
